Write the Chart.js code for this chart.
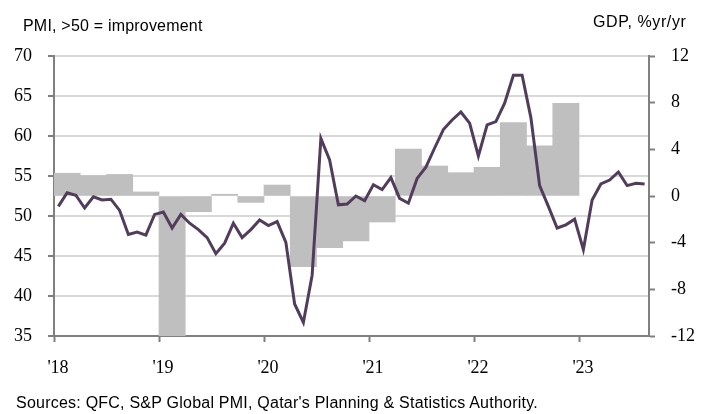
<!DOCTYPE html>
<html>
<head>
<meta charset="utf-8">
<script src="https://cdn.jsdelivr.net/npm/chart.js@4"></script>
<style>
  body { margin: 0; background: #fff; }
  #wrap { position: relative; width: 709px; height: 414px; font-family: "Liberation Sans", Arial, sans-serif; color: #000; }
  #wrap canvas { position: absolute; left: 0; top: 0; }
  .note { position: absolute; white-space: nowrap; line-height: 1; }
</style>
</head>
<body>
<div id="wrap">
  <canvas id="chart" width="709" height="414"></canvas>
  <div class="note" id="leftTitle" style="left:23px; top:18px; font-size:16px; letter-spacing:0.2px;">PMI, &gt;50 = improvement</div>
  <div class="note" id="rightTitle" style="left:593px; top:14px; font-size:16px; letter-spacing:0.6px;">GDP, %yr/yr</div>
  <div class="note" id="source" style="left:16px; top:395px; font-size:16px; letter-spacing:0.23px;">Sources: QFC, S&amp;P Global PMI, Qatar's Planning &amp; Statistics Authority.</div>
</div>
<script>
// tick labels for the year axis (first year 2018)
const yearLabels = ["'18", "'19", "'20", "'21", "'22", "'23"]

// PMI, monthly Jan 2018 .. Aug 2023
const pmi = [
  51.2, 52.9, 52.6, 51.0, 52.4, 52.0, 52.1, 50.7, 47.7, 48.0, 47.6, 50.2,
  50.5, 48.5, 50.2, 49.1, 48.3, 47.3, 45.3, 46.6, 49.1, 47.3, 48.3, 49.5,
  48.8, 49.3, 46.7, 39.0, 36.7, 42.6, 59.7, 57.0, 51.4, 51.5, 52.5, 51.9,
  53.9, 53.3, 54.8, 52.2, 51.6, 54.7, 56.1, 58.5, 60.8, 62.0, 63.0, 61.6,
  57.5, 61.4, 61.8, 64.1, 67.6, 67.6, 62.3, 53.8, 51.2, 48.5, 48.9, 49.6,
  45.8, 52.0, 54.0, 54.5, 55.5, 53.8, 54.1, 54.0
]

// real GDP, %yr/yr, quarterly Q1 2018 .. Q4 2022
const quarters = [
  'Q1 18', 'Q2 18', 'Q3 18', 'Q4 18',
  'Q1 19', 'Q2 19', 'Q3 19', 'Q4 19',
  'Q1 20', 'Q2 20', 'Q3 20', 'Q4 20',
  'Q1 21', 'Q2 21', 'Q3 21', 'Q4 21',
  'Q1 22', 'Q2 22', 'Q3 22', 'Q4 22'
]
const gdp = [
  1.95, 1.75, 1.85, 0.35,
  -13.5, -1.35, 0.15, -0.55,
  0.94, -6.05, -4.43, -3.85,
  -2.23, 4.03, 2.57, 2.0,
  2.46, 6.29, 4.29, 7.94
]

const axisGrey = '#808080'
const tickFont = { family: '"Liberation Serif", "Times New Roman", serif', size: 18 }

// x is measured in months since Jan 2018; monthly points sit mid-month
const pmiPoints = pmi.map((v, i) => ({ x: i + 0.5, y: v }))
const gdpPoints = gdp.map((v, i) => ({ x: i * 3 + 1.5, y: v, q: quarters[i] }))

const config = {
  type: 'line',
  data: {
    datasets: [
      {
        type: 'line',
        label: 'PMI',
        data: pmiPoints,
        yAxisID: 'y',
        borderColor: '#513d5b',
        borderWidth: 3,
        pointRadius: 0,
        tension: 0,
        order: 1
      },
      {
        type: 'bar',
        label: 'GDP',
        data: gdpPoints,
        yAxisID: 'y1',
        backgroundColor: '#bfbfbf',
        borderWidth: 0,
        barPercentage: 1,
        categoryPercentage: 1,
        order: 2
      }
    ]
  },
  options: {
    responsive: false,
    animation: false,
    devicePixelRatio: 1,
    layout: { padding: { top: 56, left: 0, right: 0, bottom: 0 } },
    plugins: { legend: { display: false }, tooltip: { enabled: false } },
    scales: {
      x: {
        type: 'linear',
        min: 0,
        max: 68,
        offset: false,
        afterBuildTicks: s => { s.ticks = yearLabels.map((_, i) => ({ value: i * 12 })) },
        afterFit: s => { s.height = 78 },
        ticks: {
          autoSkip: false,
          maxRotation: 0,
          padding: 15,
          labelOffset: 4,
          color: '#000',
          font: tickFont,
          callback: v => yearLabels[v / 12]
        },
        grid: { offset: false, drawOnChartArea: false, tickLength: 6, tickColor: axisGrey, tickWidth: 2 },
        border: { color: axisGrey, width: 2 }
      },
      y: {
        position: 'left',
        min: 35,
        max: 70,
        afterFit: s => { s.width = 54 },
        ticks: { stepSize: 5, padding: 16, color: '#000', font: tickFont },
        grid: { color: '#d9d9d9', lineWidth: 2, tickLength: 6, tickColor: axisGrey, tickWidth: 2 },
        border: { color: axisGrey, width: 2 }
      },
      y1: {
        position: 'right',
        min: -12,
        max: 12,
        afterFit: s => { s.width = 60 },
        ticks: { stepSize: 4, padding: 16, color: '#000', font: tickFont },
        grid: { drawOnChartArea: false, tickLength: 6, tickColor: axisGrey, tickWidth: 2 },
        border: { color: axisGrey, width: 2 }
      }
    }
  }
}

new Chart(document.getElementById('chart'), config)
</script>
</body>
</html>
